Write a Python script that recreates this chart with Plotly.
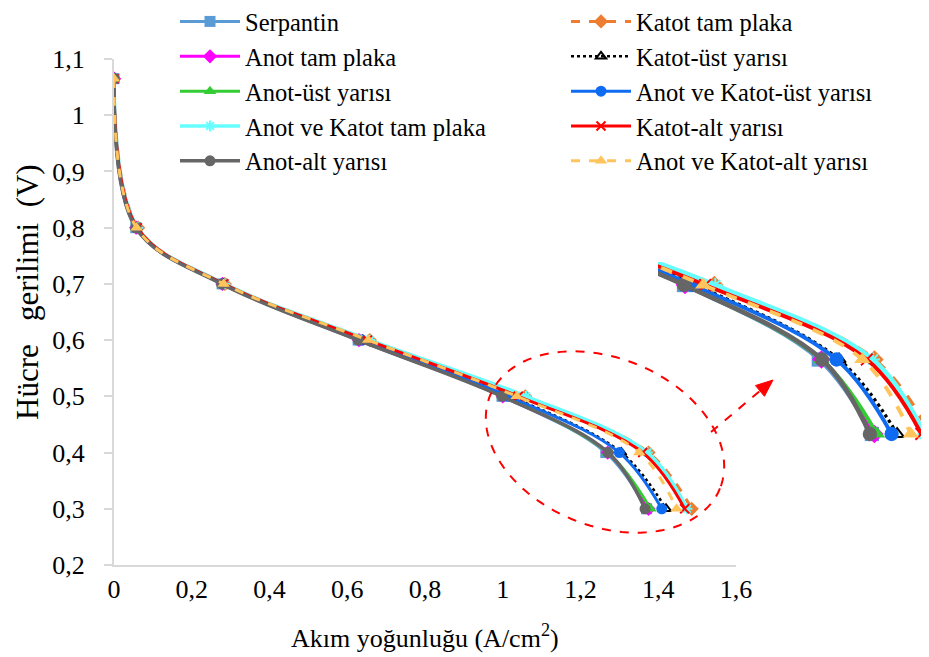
import numpy as np
import plotly.graph_objects as go

# cell voltage points (V), shared by every series
voltage = [1.065, 0.8, 0.7, 0.6, 0.5, 0.4, 0.3]

# current density (A/cm2) for each series
serpantin = [0, 0.056, 0.278, 0.628, 0.998, 1.265, 1.370]
katot_tam = [0, 0.062, 0.285, 0.658, 1.058, 1.375, 1.486]
anot_tam = [0, 0.057, 0.279, 0.630, 1.000, 1.270, 1.375]
katot_ust = [0, 0.058, 0.281, 0.640, 1.020, 1.305, 1.420]
anot_ust = [0, 0.057, 0.279, 0.630, 1.000, 1.270, 1.380]
ak_ust = [0, 0.058, 0.280, 0.638, 1.015, 1.300, 1.409]
ak_tam = [0, 0.061, 0.285, 0.658, 1.060, 1.372, 1.474]
katot_alt = [0, 0.060, 0.283, 0.652, 1.040, 1.360, 1.468]
anot_alt = [0, 0.056, 0.277, 0.628, 0.998, 1.271, 1.366]
ak_alt = [0, 0.058, 0.282, 0.654, 1.036, 1.351, 1.447]

# name, x values, color, dash, marker symbol, line width, legend column
series = [
    ("Serpantin", serpantin, "#5B9BD5", "solid", "square", 3, "legend"),
    ("Katot tam plaka", katot_tam, "#ED7D31", "dash", "diamond", 3, "legend2"),
    ("Anot tam plaka", anot_tam, "#FF00FF", "solid", "diamond", 3, "legend"),
    ("Katot-üst yarısı", katot_ust, "#000000", "dot", "triangle-up-open", 2.5, "legend2"),
    ("Anot-üst yarısı", anot_ust, "#33CC33", "solid", "triangle-up", 3, "legend"),
    ("Anot ve Katot-üst yarısı", ak_ust, "#0F6BF0", "solid", "circle", 3, "legend2"),
    ("Anot ve Katot tam plaka", ak_tam, "#66FFFF", "solid", "asterisk-open", 3.5, "legend"),
    ("Katot-alt yarısı", katot_alt, "#FF0000", "solid", "x-thin-open", 3, "legend2"),
    ("Anot-alt yarısı", anot_alt, "#666666", "solid", "circle", 3.5, "legend"),
    ("Anot ve Katot-alt yarısı", ak_alt, "#FFC55C", "dash", "triangle-up", 3, "legend2"),
]

# the page body has an 8px margin, so the figure is drawn 8px smaller
W, H = 921, 649
L, T, B = 106, 51, 92


# helpers taking pixel positions of the 929x657 screenshot
def px(x):
    return (x - 8 - L) / (W - L)


def py(y):
    return (H - B - (y - 8)) / (H - B - T)


FONT = "Liberation Serif, Times New Roman, serif"

fig = go.Figure()

for name, xs, color, dash, sym, lw, leg in series:
    open_sym = sym.endswith("open")
    for inset in (False, True):
        k = 1.3 if inset else 1.0
        fig.add_trace(go.Scatter(
            x=xs, y=voltage, name=name,
            mode="lines+markers",
            line=dict(color=color, width=lw * k, dash=dash, shape="spline"),
            marker=dict(symbol=sym, color=color, size=(11 if not open_sym else 9) * k,
                        line=dict(color=color, width=2 if open_sym else 0)),
            showlegend=not inset,
            legend=leg,
            xaxis="x2" if inset else "x",
            yaxis="y2" if inset else "y",
        ))

# dashed red ellipse around the knee of the curves
t = np.linspace(0, 2 * np.pi, 120)
cx, cy, a, b, th = 605, 442, 124, 84, np.radians(22)
ex = cx + a * np.cos(t) * np.cos(th) - b * np.sin(t) * np.sin(th)
ey = cy + a * np.cos(t) * np.sin(th) + b * np.sin(t) * np.cos(th)
ell = "M " + " L ".join(f"{px(u):.4f},{py(v):.4f}" for u, v in zip(ex, ey)) + " Z"

# arrow from the ellipse to the zoomed copy
tail = np.array([711.0, 432.0])
tip = np.array([773.0, 380.0])
d = (tip - tail) / np.linalg.norm(tip - tail)
nrm = np.array([-d[1], d[0]])
base = tip - 17 * d
p1, p2 = base + 7 * nrm, base - 7 * nrm
head = (f"M {px(tip[0]):.4f},{py(tip[1]):.4f} L {px(p1[0]):.4f},{py(p1[1]):.4f} "
        f"L {px(p2[0]):.4f},{py(p2[1]):.4f} Z")

shapes = [
    dict(type="path", path=ell, xref="paper", yref="paper",
         line=dict(color="#FF0000", width=2, dash="dash")),
    dict(type="line", xref="paper", yref="paper",
         x0=px(tail[0]), y0=py(tail[1]), x1=px(base[0]), y1=py(base[1]),
         line=dict(color="#FF0000", width=2, dash="dash")),
    dict(type="path", path=head, xref="paper", yref="paper",
         fillcolor="#FF0000", line=dict(color="#FF0000", width=1)),
]

axis_grey = "#D9D9D9"

fig.update_layout(
    width=W, height=H,
    margin=dict(l=L, r=0, t=T, b=B, autoexpand=False),
    paper_bgcolor="white", plot_bgcolor="white",
    separators=", ",
    font=dict(family=FONT, size=26, color="black"),
    # labels sit right under the axis; the tick marks come from xaxis3
    xaxis=dict(domain=[0, px(736)], range=[0, 1.6], dtick=0.2,
               showgrid=False, zeroline=False, showline=True,
               linecolor=axis_grey, linewidth=2, ticks="outside",
               ticklen=0, ticklabelstandoff=0),
    xaxis3=dict(domain=[0, px(736)], range=[0, 1.6], dtick=0.2,
                overlaying="x", anchor="y", showticklabels=False,
                showgrid=False, zeroline=False, showline=False,
                ticks="outside", ticklen=7, tickwidth=2, tickcolor=axis_grey),
    yaxis=dict(domain=[0, 1], range=[0.2, 1.1], dtick=0.1,
               showgrid=False, zeroline=False, showline=True,
               linecolor=axis_grey, linewidth=2, ticks="outside",
               ticklen=8, tickwidth=2, tickcolor=axis_grey,
               ticklabelstandoff=14),
    xaxis2=dict(domain=[px(658), 1], range=[0.9465, 1.4831], visible=False,
                anchor="y2"),
    yaxis2=dict(domain=[py(445), py(262)], range=[0.2852, 0.5309], visible=False,
                anchor="x2"),
    legend=dict(x=px(175), y=py(-1), xanchor="left", yanchor="top", itemwidth=60,
                font=dict(size=24.5), bgcolor="rgba(0,0,0,0)", tracegroupgap=0),
    legend2=dict(x=px(566), y=py(-1), xanchor="left", yanchor="top", itemwidth=60,
                 font=dict(size=24.5), bgcolor="rgba(0,0,0,0)", tracegroupgap=0),
    shapes=shapes,
    annotations=[
        dict(text="Hücre   gerilimi  (V)", textangle=-90,
             x=px(27), y=py(292), xref="paper", yref="paper",
             xanchor="center", yanchor="middle", showarrow=False,
             font=dict(size=31)),
        dict(text="Akım yoğunluğu (A/cm<sup>2</sup>)",
             x=px(425), y=py(636), xref="paper", yref="paper",
             xanchor="center", yanchor="middle", showarrow=False,
             font=dict(size=26)),
    ],
)

fig.write_html("out.html")
